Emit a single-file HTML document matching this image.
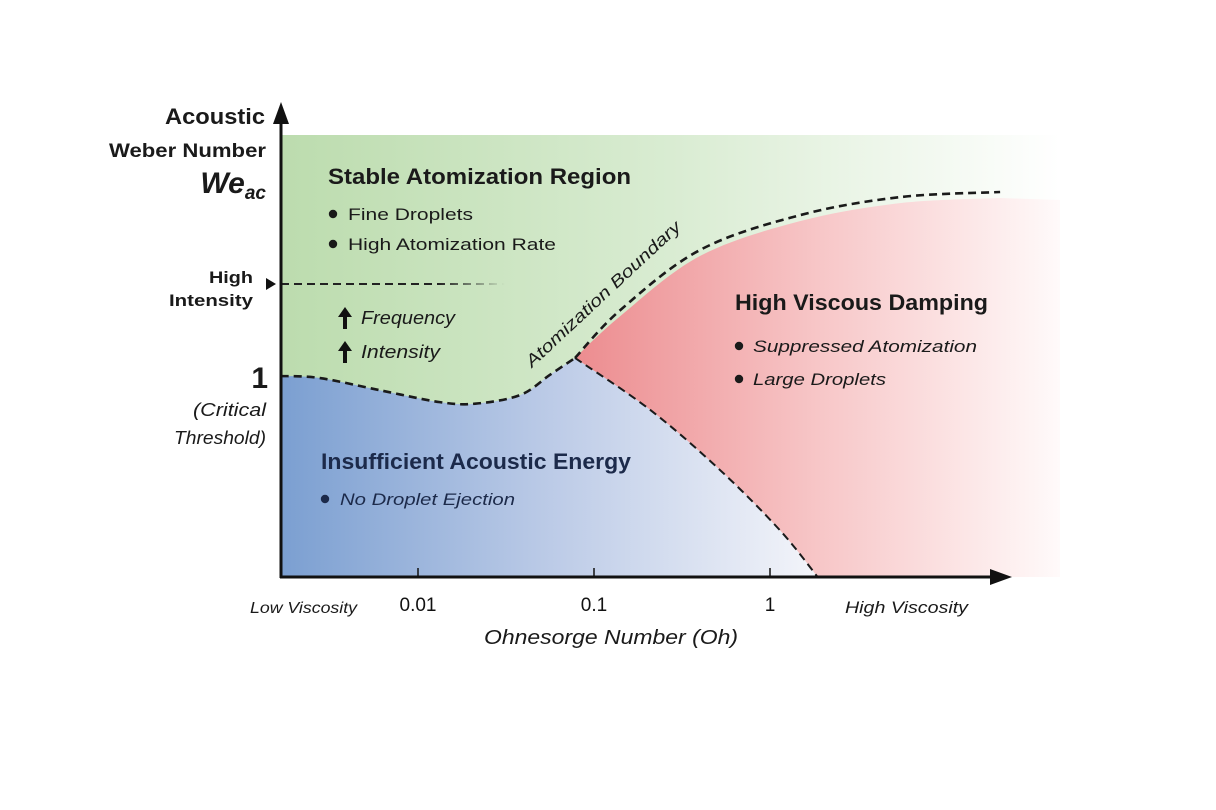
<!DOCTYPE html>
<html><head><meta charset="utf-8">
<style>
html,body{margin:0;padding:0;background:#fff;}
svg{display:block;font-family:"Liberation Sans",sans-serif;}
</style></head>
<body>
<svg id="chart" width="1216" height="810" viewBox="0 0 1216 810">
<defs>
<linearGradient id="gGreen" x1="281" y1="0" x2="1060" y2="0" gradientUnits="userSpaceOnUse">
<stop offset="0" stop-color="#bcdcae"/><stop offset="0.5" stop-color="#d9ecd2"/><stop offset="1" stop-color="#ffffff"/></linearGradient>
<linearGradient id="gBlue" x1="281" y1="0" x2="820" y2="0" gradientUnits="userSpaceOnUse">
<stop offset="0" stop-color="#7b9fd1"/><stop offset="0.5" stop-color="#bccbe7"/><stop offset="1" stop-color="#f4f5fa"/></linearGradient>
<linearGradient id="gRed" x1="575" y1="0" x2="1060" y2="0" gradientUnits="userSpaceOnUse">
<stop offset="0" stop-color="#ec8c8f"/><stop offset="0.5" stop-color="#f7c6c7"/><stop offset="1" stop-color="#fffafa"/></linearGradient>
<linearGradient id="gDash" x1="281" y1="0" x2="505" y2="0" gradientUnits="userSpaceOnUse">
<stop offset="0.7" stop-color="#222"/><stop offset="1" stop-color="#222" stop-opacity="0"/></linearGradient>
</defs>
<g id="regions"></g>
<g id="lines"></g>
<g id="axes"></g>
<g id="labels"></g>
</svg>
<script>
// Ohnesorge (x, log scale) and acoustic Weber (y, log scale) of boundary points
const lowerOh = [0.00166, 0.00277, 0.00608, 0.0133, 0.0211, 0.038, 0.0562, 0.078];
const lowerWe = [1, 0.95, 0.70, 0.52, 0.50, 0.62, 1.03, 1.57];
const upperOh = [0.078, 0.141, 0.40, 1.48, 5.48, 20.3];
const upperWe = [1.57, 5.2, 23.4, 56, 88, 100];
const rightOh = [0.078, 0.208, 0.52, 1.14, 1.87];
const rightWe = [1.57, 0.43, 0.095, 0.021, 0.0065];
const xTicks = [0.01, 0.1, 1];
const xTickLabels = ["0.01", "0.1", "1"];
const highIntensityWe = 10;

const NS = "http://www.w3.org/2000/svg";
const X0 = 281, Y0 = 577;
function xs(oh){ return 418 + (Math.log10(oh) + 2) * 176; }
function ys(we){ return 376 - Math.log10(we) * 92; }
function pts(a, b, dy){ return a.map((v, i) => [xs(v), ys(b[i]) + (dy || 0)]); }
function smooth(p){
  let d = "M" + p[0][0] + "," + p[0][1];
  for (let i = 0; i < p.length - 1; i++){
    const p0 = p[i-1] || p[i], p1 = p[i], p2 = p[i+1], p3 = p[i+2] || p2;
    const c1 = [p1[0] + (p2[0]-p0[0])/6, p1[1] + (p2[1]-p0[1])/6];
    const c2 = [p2[0] - (p3[0]-p1[0])/6, p2[1] - (p3[1]-p1[1])/6];
    d += " C" + c1[0] + "," + c1[1] + " " + c2[0] + "," + c2[1] + " " + p2[0] + "," + p2[1];
  }
  return d;
}
function seg(p){ return smooth(p).replace(/^M[^C]*/, ""); }
function mk(tag, attrs, parent){
  const el = document.createElementNS(NS, tag);
  for (const k in attrs) el.setAttribute(k, attrs[k]);
  document.getElementById(parent).appendChild(el);
  return el;
}
const L = pts(lowerOh, lowerWe), U = pts(upperOh, upperWe), R = pts(rightOh, rightWe);
const Ured = pts(upperOh, upperWe, 6); Ured[0] = U[0];
const last = Ured[Ured.length-1];

let el;
el = mk("rect", {x: X0, y: 135, width: 780, height: Y0 - 135, fill: "url(#gGreen)"}, "regions");



el = mk("path", {d: smooth(Ured) + " L1060," + (last[1] + 2) + " L1060," + Y0 + " L" + R[R.length-1][0] + "," + Y0 + " " + seg(R.slice().reverse()) + " Z", fill: "url(#gRed)"}, "regions");



el = mk("path", {d: "M" + X0 + "," + Y0 + " L" + L[0][0] + "," + L[0][1] + seg(L) + seg(R) + " L" + R[R.length-1][0] + "," + Y0 + " Z", fill: "url(#gBlue)"}, "regions");



const dashStyle = {fill: "none", stroke: "#1a1a1a", "stroke-width": 2.6, "stroke-dasharray": "8 5"};
el = mk("path", Object.assign({d: smooth(L)}, dashStyle), "lines");


el = mk("path", Object.assign({d: smooth(U)}, dashStyle), "lines");


el = mk("path", Object.assign({d: smooth(R)}, dashStyle, {"stroke-width": 2}), "lines");


el = mk("line", {x1: X0, x2: 505, y1: ys(highIntensityWe), y2: ys(highIntensityWe), stroke: "url(#gDash)", "stroke-width": 2, "stroke-dasharray": "8 5"}, "lines");



el = mk("line", {x1: X0, y1: Y0 + 1, x2: X0, y2: 118, stroke: "#111", "stroke-width": 3}, "axes");


el = mk("path", {d: "M281,102 L273,124 L289,124 Z", fill: "#111"}, "axes");


el = mk("line", {x1: X0 - 1, y1: Y0, x2: 995, y2: Y0, stroke: "#111", "stroke-width": 3}, "axes");


el = mk("path", {d: "M1012,577 L990,569 L990,585 Z", fill: "#111"}, "axes");


el = mk("path", {d: "M276,284 L266,278 L266,290 Z", fill: "#111"}, "axes");


xTicks.forEach((t, i) => {
  const x = xs(t);
  let e = mk("line", {x1: x, x2: x, y1: Y0, y2: Y0 - 9, stroke: "#111", "stroke-width": 1.5}, "axes");
  
  
  e = mk("text", {x: x, y: 611, "text-anchor": "middle", "font-size": 19, fill: "#111"}, "axes");
  e.textContent = xTickLabels[i];
  
  
});
</script>
<script>
(function(){
const NS = "http://www.w3.org/2000/svg";
const g = document.getElementById("labels");
const items = [
 ["y-axis-title-acoustic","Acoustic",265,124,22,"bold","normal","end",100],
 ["y-axis-title-weber","Weber Number",266,157,19,"bold","normal","end",157],
 ["y-tick-high","High",253,283,17,"bold","normal","end",44],
 ["y-tick-intensity","Intensity",253,306,17,"bold","normal","end",84],
 ["y-tick-one","1",268,388,30,"bold","normal","end",0],
 ["critical-label","(Critical",266,416,18,"normal","italic","end",73],
 ["threshold-label","Threshold)",266,444,18,"normal","italic","end",92],
 ["stable-region-title","Stable Atomization Region",328,184,22,"bold","normal","start",303],
 ["fine-droplets","Fine Droplets",348,220,17,"normal","normal","start",125],
 ["high-rate","High Atomization Rate",348,250,17,"normal","normal","start",208],
 ["frequency-label","Frequency",361,324,18,"normal","italic","start",94],
 ["intensity-label","Intensity",361,358,18,"normal","italic","start",79],
 ["viscous-region-title","High Viscous Damping",735,310,22,"bold","normal","start",253],
 ["suppressed-atomization","Suppressed Atomization",753,352,17,"normal","italic","start",224],
 ["large-droplets","Large Droplets",753,385,17,"normal","italic","start",133],
 ["insufficient-region-title","Insufficient Acoustic Energy",321,469,22,"bold","normal","start",310],
 ["no-ejection","No Droplet Ejection",340,505,17,"normal","italic","start",175],
 ["low-viscosity","Low Viscosity",250,613,16,"normal","italic","start",107],
 ["high-viscosity","High Viscosity",845,613,17,"normal","italic","start",123],
 ["x-axis-title","Ohnesorge Number (Oh)",484,644,20,"normal","italic","start",254]
];
items.forEach(it => {
  const t = document.createElementNS(NS, "text");
  t.setAttribute("x", it[2]); t.setAttribute("y", it[3]);
  t.setAttribute("font-size", it[4]); t.setAttribute("font-weight", it[5]);
  t.setAttribute("font-style", it[6]); t.setAttribute("text-anchor", it[7]);
  t.setAttribute("fill", it[0].indexOf("insufficient")===0||it[0]==="no-ejection" ? "#1c2a4a" : "#1a1a1a");
  if (it[8]) { t.setAttribute("textLength", it[8]); t.setAttribute("lengthAdjust", "spacingAndGlyphs"); }
  t.textContent = it[1];
  
  
  g.appendChild(t);
});
[[333,214,"#1a1a1a"],[333,244,"#1a1a1a"],[739,346,"#1a1a1a"],[739,379,"#1a1a1a"],[325,499,"#1c2a4a"]].forEach(b => {
  const c = document.createElementNS(NS, "circle");
  c.setAttribute("cx", b[0]); c.setAttribute("cy", b[1]); c.setAttribute("r", 4.2);
  c.setAttribute("fill", b[2]);
  
  
  g.appendChild(c);
});
const w = document.createElementNS(NS, "text");
w.setAttribute("x", 266); w.setAttribute("y", 193); w.setAttribute("text-anchor", "end");
w.setAttribute("font-style", "italic"); w.setAttribute("font-weight", "bold"); w.setAttribute("fill", "#1a1a1a");
w.innerHTML = '<tspan font-size="30">We</tspan><tspan font-size="19" dy="6">ac</tspan>';


g.appendChild(w);
const b = document.createElementNS(NS, "text");
b.setAttribute("x", 0); b.setAttribute("y", 0);
b.setAttribute("transform", "translate(532,368) rotate(-43)");
b.setAttribute("font-size", 17); b.setAttribute("font-style", "italic"); b.setAttribute("fill", "#1a1a1a");
b.setAttribute("textLength", 205); b.setAttribute("lengthAdjust", "spacingAndGlyphs");
b.textContent = "Atomization Boundary";


g.appendChild(b);
[318, 352].forEach(y => {
  const a = document.createElementNS(NS, "path");
  a.setAttribute("d", `M345,${y-11} L338,${y-1} L343,${y-1} L343,${y+11} L347,${y+11} L347,${y-1} L352,${y-1} Z`);
  a.setAttribute("fill", "#111");
  
  
  g.appendChild(a);
});
})();
</script>
</body></html>
